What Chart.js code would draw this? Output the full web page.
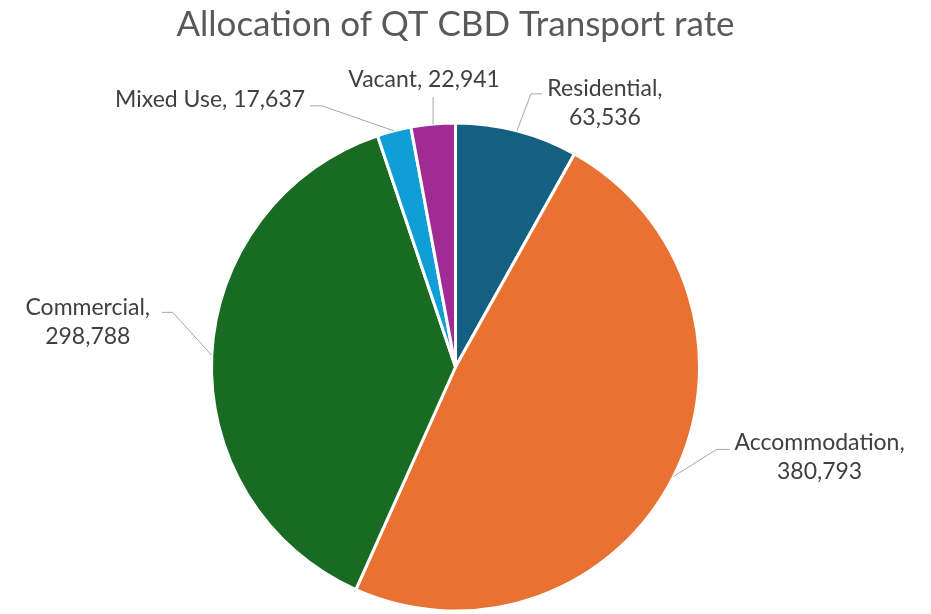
<!DOCTYPE html>
<html>
<head>
<meta charset="utf-8">
<script src="https://cdn.jsdelivr.net/npm/chart.js@4.4.0/dist/chart.umd.min.js"></script>
<style>
  body { margin: 0; background: #fff; }
</style>
</head>
<body>
<canvas id="ratepie" width="931" height="614"></canvas>
<script>
var categories = ["Residential", "Accommodation", "Commercial", "Mixed Use", "Vacant"];
var rateValues = [63536, 380793, 298788, 17637, 22941];
var sliceColors = ["#156082", "#E97132", "#196B24", "#0F9ED5", "#A02B93"];

// where each data label sits, relative to the outer middle of its slice
// elbow = bend of the leader line, end = where the line stops, text = centre of first text line
var labelPlaces = [
  {elbow: [14, -37], end: [25, -37], text: [88, -42], split: true},
  {elbow: [43, -27], end: [56, -27], text: [146, -34], split: true},
  {elbow: [-39, -43], end: [-50, -43], text: [-124, -48], split: true},
  {elbow: [-72, -25], end: [-84, -25], text: [-184, -31], split: false},
  {elbow: [0, -27], end: [0, -27], text: [-9, -44], split: false}
];

function fmt(n) {
  return n.toLocaleString("en-US");
}

var pieLabels = {
  id: "pieLabels",
  afterDatasetsDraw: function(chart) {
    var ctx = chart.ctx;
    var arcs = chart.getDatasetMeta(0).data;
    ctx.save();
    arcs.forEach(function(arc, i) {
      var mid = (arc.startAngle + arc.endAngle) / 2;
      var r = arc.outerRadius;
      var px = arc.x + Math.cos(mid) * r;
      var py = arc.y + Math.sin(mid) * r;
      var p = labelPlaces[i];

      ctx.strokeStyle = "#a6a6a6";
      ctx.lineWidth = 1;
      ctx.beginPath();
      ctx.moveTo(px, py);
      ctx.lineTo(px + p.elbow[0], py + p.elbow[1]);
      ctx.lineTo(px + p.end[0], py + p.end[1]);
      ctx.stroke();

      ctx.fillStyle = "#404040";
      ctx.font = "23px Lato";
      ctx.textAlign = "center";
      ctx.textBaseline = "middle";
      var tx = px + p.text[0];
      var ty = py + p.text[1];
      if (p.split) {
        ctx.fillText(categories[i] + ",", tx, ty);
        ctx.fillText(fmt(rateValues[i]), tx, ty + 29);
      } else {
        ctx.fillText(categories[i] + ", " + fmt(rateValues[i]), tx, ty);
      }
    });
    ctx.restore();
  }
};

new Chart("ratepie", {
  type: "pie",
  data: {
    labels: categories,
    datasets: [{
      data: rateValues,
      backgroundColor: sliceColors,
      borderColor: "#ffffff",
      borderWidth: 3,
      hoverOffset: 0
    }]
  },
  options: {
    responsive: false,
    animation: false,
    devicePixelRatio: 1,
    layout: {
      padding: {top: 0, bottom: 1.5, left: 0, right: 20}
    },
    plugins: {
      legend: {display: false},
      tooltip: {enabled: false},
      title: {
        display: true,
        text: "Allocation of QT CBD Transport rate",
        color: "#595959",
        font: {family: "Lato", size: 35, weight: "normal"},
        padding: {top: 4, bottom: 75.5}
      }
    }
  },
  plugins: [pieLabels]
});
</script>
</body>
</html>
